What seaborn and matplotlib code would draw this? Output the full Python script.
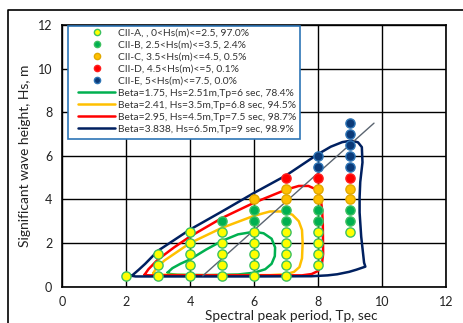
import matplotlib
matplotlib.use("Agg")
import matplotlib.pyplot as plt
import seaborn as sns
import pandas as pd
from matplotlib.lines import Line2D
from matplotlib.patches import Rectangle

# ---- scatter data: sea-state classes (Tp in sec, Hs in m) ----
a_tp = [2, 3, 3, 3, 4, 4, 4, 4, 4, 5, 5, 5, 5, 5, 6, 6, 6, 6, 6, 7, 7, 7, 7, 7, 8, 8, 8, 8, 9]
a_hs = [0.5, 0.5, 1.0, 1.5, 0.5, 1.0, 1.5, 2.0, 2.5, 0.5, 1.0, 1.5, 2.0, 2.5,
        0.5, 1.0, 1.5, 2.0, 2.5, 0.5, 1.0, 1.5, 2.0, 2.5, 1.0, 1.5, 2.0, 2.5, 2.5]
b_tp = [5, 6, 6, 7, 7, 8, 8, 9, 9]
b_hs = [3.0, 3.0, 3.5, 3.0, 3.5, 3.0, 3.5, 3.0, 3.5]
c_tp = [6, 7, 7, 8, 8, 9, 9]
c_hs = [4.0, 4.0, 4.5, 4.0, 4.5, 4.0, 4.5]
d_tp = [7, 8, 9]
d_hs = [5.0, 5.0, 5.0]
e_tp = [8, 8, 9, 9, 9, 9, 9]
e_hs = [5.5, 6.0, 5.5, 6.0, 6.5, 7.0, 7.5]

class_labels = ["CII-A, , 0<Hs(m)<=2.5, 97.0%",
                "CII-B, 2.5<Hs(m)<=3.5, 2.4%",
                "CII-C, 3.5<Hs(m)<=4.5, 0.5%",
                "CII-D, 4.5<Hs(m)<=5, 0.1%",
                "CII-E, 5<Hs(m)<=7.5, 0.0%"]

# ---- environmental contours ----
g_tp = [3.3, 3.45, 3.7, 4.0, 4.5, 5.0, 5.5, 6.0, 6.3, 6.55, 6.66, 6.65, 6.55, 6.35, 6.0, 5.5, 4.5, 3.6, 3.38, 3.3]
g_hs = [0.65, 0.85, 1.05, 1.25, 1.7, 2.1, 2.4, 2.52, 2.45, 2.2, 1.8, 1.4, 1.05, 0.8, 0.64, 0.56, 0.53, 0.55, 0.58, 0.65]
o_tp = [2.85, 2.95, 3.2, 3.5, 4.0, 5.0, 6.0, 6.5, 6.9, 7.2, 7.4, 7.5, 7.52, 7.5, 7.42, 7.25, 7.0, 6.5, 4.0, 3.0, 2.88, 2.85]
o_hs = [0.62, 0.85, 1.2, 1.5, 2.0, 2.7, 3.25, 3.45, 3.45, 3.3, 3.0, 2.6, 2.0, 1.3, 0.9, 0.68, 0.57, 0.53, 0.53, 0.55, 0.58, 0.62]
r_tp = [2.58, 2.7, 3.0, 3.5, 4.0, 5.0, 6.0, 7.0, 7.4, 7.7, 7.93, 8.08, 8.13, 8.15, 8.16, 8.12, 8.0, 7.8, 7.5, 6.0, 4.0, 2.75, 2.62, 2.58]
r_hs = [0.55, 0.8, 1.25, 1.8, 2.3, 3.15, 3.85, 4.45, 4.62, 4.62, 4.47, 4.1, 3.5, 2.85, 1.5, 1.0, 0.72, 0.58, 0.52, 0.52, 0.52, 0.52, 0.53, 0.55]
n_tp = [2.18, 2.4, 2.6, 3.0, 4.0, 5.0, 6.0, 7.0, 8.0, 8.4, 8.76, 9.05, 9.25, 9.37, 9.39, 9.32, 9.3, 9.3,
        9.35, 9.44, 9.48, 9.2, 8.97, 8.6, 8.3, 7.8, 6.0, 4.0, 2.5, 2.3, 2.18]
n_hs = [0.5, 0.78, 1.05, 1.65, 2.62, 3.45, 4.3, 5.1, 6.08, 6.42, 6.63, 6.7, 6.62, 6.4, 5.7, 4.8, 4.1, 3.4,
        2.3, 1.1, 0.92, 0.78, 0.68, 0.57, 0.52, 0.48, 0.47, 0.47, 0.47, 0.47, 0.5]
contour_labels = ["Beta=1.75, Hs=2.51m,Tp=6 sec, 78.4%",
                  "Beta=2.41, Hs=3.5m,Tp=6.8 sec, 94.5%",
                  "Beta=2.95, Hs=4.5m,Tp=7.5 sec, 98.7%",
                  "Beta=3.838, Hs=6.5m,Tp=9 sec, 98.9%"]

# diagonal reference line
diag_tp = [4.4, 9.75]
diag_hs = [0.5, 7.5]

x_ticks = [0, 2, 4, 6, 8, 10, 12]
y_ticks = [0, 2, 4, 6, 8, 10, 12]

sns.set_theme(style="white")
plt.rcParams["font.family"] = ["Lato", "DejaVu Sans"]

W, H = 463, 323
AX_L, AX_R, AX_T, AX_B = 62, 446, 25, 286.7
AW, AH = AX_R - AX_L, AX_B - AX_T

fig = plt.figure(figsize=(W / 100, H / 100), dpi=100)
ax = fig.add_axes([AX_L / W, 1 - AX_B / H, AW / W, AH / H])


def ax_x(px):
    return (px - AX_L) / AW


def ax_y(py):
    return 1 - (py - AX_T) / AH


ax.set_xlim(0, 12)
ax.set_ylim(0, 12)
ax.set_xticks(x_ticks)
ax.set_yticks(y_ticks)
ax.grid(True, color="black", linewidth=1.0)
ax.set_axisbelow(True)
for s in ax.spines.values():
    s.set_color("black")
    s.set_linewidth(1.2)
ax.tick_params(length=0, pad=7, labelsize=9, colors="#222222")

# contours
line_styles = [("#00B050", g_tp, g_hs), ("#FFC000", o_tp, o_hs),
               ("#FF0000", r_tp, r_hs), ("#002060", n_tp, n_hs)]
line_handles = []
for (col, tps, hss), lab in zip(line_styles, contour_labels):
    df = pd.DataFrame({"Tp": tps, "Hs": hss})
    sns.lineplot(data=df, x="Tp", y="Hs", sort=False, estimator=None, color=col,
                 linewidth=1.8, ax=ax, zorder=3)
    line_handles.append(Line2D([0], [0], color=col, lw=1.8, label=lab))

ddf = pd.DataFrame({"Tp": diag_tp, "Hs": diag_hs})
sns.lineplot(data=ddf, x="Tp", y="Hs", sort=False, estimator=None, color="#5A6470",
             linewidth=1.0, ax=ax, zorder=3)

# scatter classes
class_styles = [("#FFFF00", "#3CC060", a_tp, a_hs),
                ("#00B050", "#3CC060", b_tp, b_hs),
                ("#FFC000", "#E0A800", c_tp, c_hs),
                ("#FF0000", "#FF2020", d_tp, d_hs),
                ("#0B3A78", "#2E75B6", e_tp, e_hs)]
mark_handles = []
for (fc, ec, tps, hss), lab in zip(class_styles, class_labels):
    df = pd.DataFrame({"Tp": tps, "Hs": hss})
    sns.scatterplot(data=df, x="Tp", y="Hs", color=fc, edgecolor=ec, linewidth=1.0,
                    s=44, ax=ax, zorder=4)
    mark_handles.append(Line2D([0], [0], linestyle="none", marker="o", markersize=4.5,
                               markerfacecolor=fc, markeredgecolor=ec, markeredgewidth=1.0,
                               label=lab))

ax.set_xlabel("Spectral peak period, Tp, sec", fontsize=9.8, color="#222222")
ax.set_ylabel("Significant wave height, Hs, m", fontsize=10, color="#222222")
ax.xaxis.set_label_coords(ax_x(291), ax_y(309.5))
ax.yaxis.set_label_coords(ax_x(31), 0.5)

# legend box (drawn separately for exact padding)
ax.add_patch(Rectangle((ax_x(68), ax_y(139)), (300 - 68) / AW, (139 - 26) / AH,
                       transform=ax.transAxes, facecolor="white", edgecolor="#2E75B6",
                       linewidth=1.2, zorder=4.5, clip_on=False))
leg = ax.legend(handles=mark_handles + line_handles, loc="upper left",
                bbox_to_anchor=(ax_x(78), ax_y(28.3)), borderaxespad=0, borderpad=0,
                fontsize=7.4, handlelength=3.6, handletextpad=0.3, labelspacing=0.28,
                frameon=False)
for t in leg.get_texts():
    t.set_color("#333333")
leg.set_zorder(5)

# outer frame
fig.add_artist(Line2D([8 / W, 8 / W, 1.0], [0.0, 1 - 10 / H, 1 - 10 / H],
                      transform=fig.transFigure, color="black", linewidth=1.2))

fig.savefig("out.png", dpi=100)
